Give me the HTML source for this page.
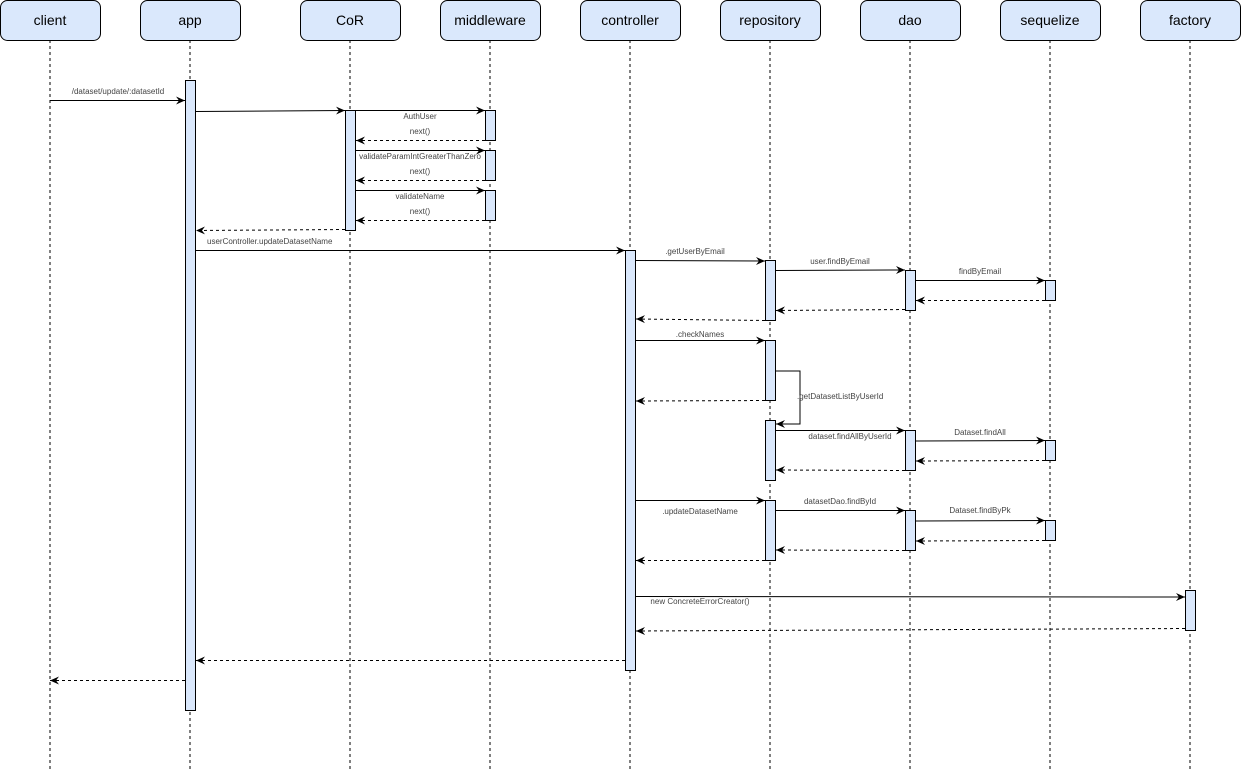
<!DOCTYPE html>
<html><head><meta charset="utf-8"><style>
html,body{margin:0;padding:0;background:#fff;}
svg{display:block;font-family:"Liberation Sans",Arial,sans-serif;}
.h{fill:#dae8fc;stroke:#000;stroke-width:1;}
.ht{font-size:14px;fill:#000;text-anchor:middle;}
.ll{stroke:#000;stroke-width:1;stroke-dasharray:3,3;}
.a{fill:#dae8fc;stroke:#000;stroke-width:1;}
.m{stroke:#000;stroke-width:1;fill:none;marker-end:url(#arr);}
.r{stroke:#000;stroke-width:1;fill:none;stroke-dasharray:3,3;marker-end:url(#arr);}
.t{font-size:8px;fill:#444;text-anchor:middle;}
.ts{font-size:8px;fill:#444;}
</style></head><body>
<svg width="1241" height="771" viewBox="0 0 1241 771" xmlns="http://www.w3.org/2000/svg">
<defs><marker id="arr" markerWidth="10" markerHeight="10" refX="9" refY="5" orient="auto" markerUnits="userSpaceOnUse"><path d="M0,1 L9,5 L0,9 L3,5 Z" fill="#000"/></marker></defs>
<g>
<line class="ll" x1="50" y1="40" x2="50" y2="771"/>
<line class="ll" x1="190" y1="40" x2="190" y2="771"/>
<line class="ll" x1="350" y1="40" x2="350" y2="771"/>
<line class="ll" x1="490" y1="40" x2="490" y2="771"/>
<line class="ll" x1="630" y1="40" x2="630" y2="771"/>
<line class="ll" x1="770" y1="40" x2="770" y2="771"/>
<line class="ll" x1="910" y1="40" x2="910" y2="771"/>
<line class="ll" x1="1050" y1="40" x2="1050" y2="771"/>
<line class="ll" x1="1190" y1="40" x2="1190" y2="771"/>
</g>
<g>
<rect class="h" x="0.5" y="0.5" width="100" height="40" rx="7"/><text class="ht" x="50" y="25">client</text>
<rect class="h" x="140.5" y="0.5" width="100" height="40" rx="7"/><text class="ht" x="190" y="25">app</text>
<rect class="h" x="300.5" y="0.5" width="100" height="40" rx="7"/><text class="ht" x="350" y="25">CoR</text>
<rect class="h" x="440.5" y="0.5" width="100" height="40" rx="7"/><text class="ht" x="490" y="25">middleware</text>
<rect class="h" x="580.5" y="0.5" width="100" height="40" rx="7"/><text class="ht" x="630" y="25">controller</text>
<rect class="h" x="720.5" y="0.5" width="100" height="40" rx="7"/><text class="ht" x="770" y="25">repository</text>
<rect class="h" x="860.5" y="0.5" width="100" height="40" rx="7"/><text class="ht" x="910" y="25">dao</text>
<rect class="h" x="1000.5" y="0.5" width="100" height="40" rx="7"/><text class="ht" x="1050" y="25">sequelize</text>
<rect class="h" x="1140.5" y="0.5" width="100" height="40" rx="7"/><text class="ht" x="1190" y="25">factory</text>
</g>
<g>
<rect class="a" x="185.5" y="80.5" width="10" height="630"/>
<rect class="a" x="345.5" y="110.5" width="10" height="120"/>
<rect class="a" x="485.5" y="110.5" width="10" height="30"/>
<rect class="a" x="485.5" y="150.5" width="10" height="30"/>
<rect class="a" x="485.5" y="190.5" width="10" height="30"/>
<rect class="a" x="625.5" y="250.5" width="10" height="420"/>
<rect class="a" x="765.5" y="260.5" width="10" height="60"/>
<rect class="a" x="765.5" y="340.5" width="10" height="60"/>
<rect class="a" x="765.5" y="420.5" width="10" height="60"/>
<rect class="a" x="765.5" y="500.5" width="10" height="60"/>
<rect class="a" x="905.5" y="270.5" width="10" height="40"/>
<rect class="a" x="905.5" y="430.5" width="10" height="40"/>
<rect class="a" x="905.5" y="510.5" width="10" height="40"/>
<rect class="a" x="1045.5" y="280.5" width="10" height="20"/>
<rect class="a" x="1045.5" y="440.5" width="10" height="20"/>
<rect class="a" x="1045.5" y="520.5" width="10" height="20"/>
<rect class="a" x="1185.5" y="590.5" width="10" height="40"/>
</g>
<g>
<line class="m" x1="50" y1="100.5" x2="185" y2="100.5"/><text class="t" x="118" y="94">/dataset/update/:datasetId</text>
<line class="m" x1="196" y1="111.5" x2="345" y2="110.5"/>
<line class="m" x1="356" y1="110.5" x2="485" y2="110.5"/><text class="t" x="420" y="119">AuthUser</text>
<line class="r" x1="485" y1="140.5" x2="356" y2="140.5"/><text class="t" x="420" y="134">next()</text>
<line class="m" x1="356" y1="150.5" x2="485" y2="150.5"/><text class="t" x="420" y="159">validateParamIntGreaterThanZero</text>
<line class="r" x1="485" y1="180.5" x2="356" y2="180.5"/><text class="t" x="420" y="174">next()</text>
<line class="m" x1="356" y1="190.5" x2="485" y2="190.5"/><text class="t" x="420" y="199">validateName</text>
<line class="r" x1="485" y1="220.5" x2="356" y2="220.5"/><text class="t" x="420" y="214">next()</text>
<line class="r" x1="345" y1="229.5" x2="196" y2="230.5"/>
<line class="m" x1="196" y1="250.5" x2="625" y2="250.5"/><text class="ts" x="207" y="244">userController.updateDatasetName</text>
<line class="m" x1="636" y1="260.5" x2="765" y2="261"/><text class="t" x="695" y="254">.getUserByEmail</text>
<line class="m" x1="776" y1="270.5" x2="905" y2="270"/><text class="t" x="840" y="264">user.findByEmail</text>
<line class="m" x1="916" y1="280.5" x2="1045" y2="280.5"/><text class="t" x="980" y="274">findByEmail</text>
<line class="r" x1="1045" y1="300.5" x2="916" y2="300.5"/>
<line class="r" x1="905" y1="309.5" x2="776" y2="310.5"/>
<line class="r" x1="765" y1="320.5" x2="636" y2="319"/>
<line class="m" x1="636" y1="340.5" x2="765" y2="340.5"/><text class="t" x="700" y="337">.checkNames</text>
<path class="m" d="M776,371 L800,371 L800,424 L776,424"/><text class="ts" x="797" y="399">.getDatasetListByUserId</text>
<line class="r" x1="765" y1="400.5" x2="636" y2="401"/>
<line class="m" x1="776" y1="430.5" x2="905" y2="430.5"/><text class="t" x="850" y="439">dataset.findAllByUserId</text>
<line class="m" x1="916" y1="441" x2="1045" y2="440.5"/><text class="t" x="980" y="435">Dataset.findAll</text>
<line class="r" x1="1045" y1="460.5" x2="916" y2="461"/>
<line class="r" x1="905" y1="470.5" x2="776" y2="470"/>
<line class="m" x1="636" y1="500.5" x2="765" y2="500.5"/><text class="t" x="700" y="514">.updateDatasetName</text>
<line class="m" x1="776" y1="510.5" x2="905" y2="510.5"/><text class="t" x="840" y="504">datasetDao.findById</text>
<line class="m" x1="916" y1="521" x2="1045" y2="520.5"/><text class="t" x="980" y="513">Dataset.findByPk</text>
<line class="r" x1="1045" y1="540.5" x2="916" y2="541"/>
<line class="r" x1="905" y1="550.5" x2="776" y2="550"/>
<line class="r" x1="765" y1="560.5" x2="636" y2="560.5"/>
<line class="m" x1="636" y1="596.5" x2="1185" y2="597"/><text class="t" x="700" y="604">new ConcreteErrorCreator()</text>
<line class="r" x1="1185" y1="628.5" x2="636" y2="631"/>
<line class="r" x1="625" y1="660.5" x2="196" y2="660.5"/>
<line class="r" x1="185" y1="680.5" x2="50" y2="680.5"/>
</g>
</svg>
</body></html>
